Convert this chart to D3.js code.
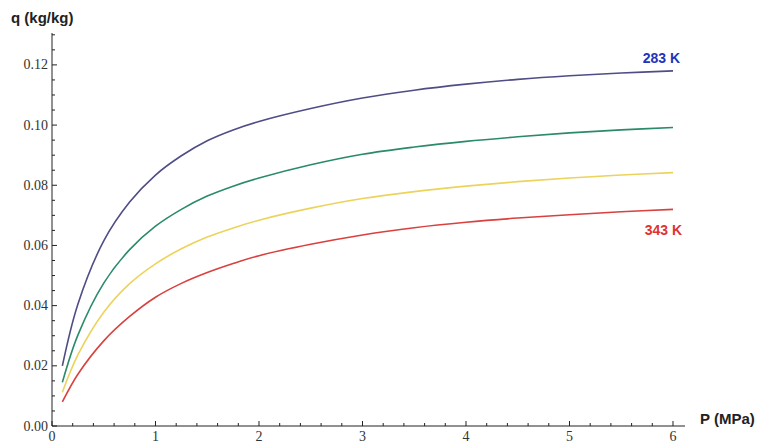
<!DOCTYPE html>
<html>
<head>
<meta charset="utf-8">
<script src="https://cdn.jsdelivr.net/npm/d3@7"></script>
<style>
  html, body { margin: 0; padding: 0; background: #fff; }
  svg { display: block; }
</style>
</head>
<body>
<svg id="chart" width="758" height="445"></svg>
<script>
// Pressure (MPa) at which each isotherm was sampled
const pressure = [0.1, 0.25, 0.5, 0.75, 1.0, 1.25, 1.5, 1.75, 2.0, 2.5, 3.0, 3.5, 4.0, 4.5, 5.0, 5.5, 6.0];

// Uptake q (kg/kg) for each temperature, lowest temperature first
const q283 = [0.0200, 0.0405, 0.0615, 0.0744, 0.0834, 0.0898, 0.0948, 0.0984, 0.1012, 0.1055, 0.1090, 0.1116, 0.1136, 0.1152, 0.1164, 0.1173, 0.1180];
const q303 = [0.0145, 0.0302, 0.0475, 0.0586, 0.0664, 0.0720, 0.0764, 0.0797, 0.0824, 0.0868, 0.0903, 0.0927, 0.0946, 0.0961, 0.0974, 0.0984, 0.0992];
const q323 = [0.0112, 0.0236, 0.0378, 0.0473, 0.0539, 0.0589, 0.0628, 0.0658, 0.0684, 0.0724, 0.0756, 0.0779, 0.0797, 0.0812, 0.0824, 0.0834, 0.0842];
const q343 = [0.0080, 0.0172, 0.0283, 0.0364, 0.0428, 0.0474, 0.0510, 0.0540, 0.0566, 0.0604, 0.0635, 0.0659, 0.0677, 0.0691, 0.0702, 0.0712, 0.0720];

const seriesColors = ["#4f4d86", "#2a8a6a", "#ecd35c", "#d9413e"];

// Axis tick values
const xMajorTicks = [0, 1, 2, 3, 4, 5, 6];
const yMajorTicks = [0.00, 0.02, 0.04, 0.06, 0.08, 0.10, 0.12];

const svg = d3.select("#chart");

const x = d3.scaleLinear().domain([0, 6.116]).range([52, 685]);
const y = d3.scaleLinear().domain([0, 0.1306]).range([426, 33]);

const tickFont = "'Liberation Serif', 'Times New Roman', serif";
const titleFont = "'Liberation Sans', Arial, sans-serif";
const axisColor = "#222";

// Curves
const line = d3.line()
  .x((d, i) => x(pressure[i]))
  .y(d => y(d))
  .curve(d3.curveCatmullRom.alpha(0.5));

[q283, q303, q323, q343].forEach((s, k) => {
  svg.append("path")
    .attr("d", line(s))
    .attr("fill", "none")
    .attr("stroke", seriesColors[k])
    .attr("stroke-width", 1.6)
    .attr("stroke-linejoin", "round");
});

// X axis (ticks pointing inward, up)
const xMinor = d3.range(0, 6.11, 0.2).map(v => +v.toFixed(2)).filter(v => !xMajorTicks.includes(v));
const gx = svg.append("g");
gx.append("line")
  .attr("x1", x(0)).attr("x2", x.range()[1])
  .attr("y1", y(0)).attr("y2", y(0))
  .attr("stroke", axisColor).attr("stroke-width", 1);
gx.selectAll(".xmaj").data(xMajorTicks).join("line")
  .attr("x1", d => x(d)).attr("x2", d => x(d))
  .attr("y1", y(0)).attr("y2", y(0) - 5)
  .attr("stroke", axisColor);
gx.selectAll(".xmin").data(xMinor).join("line")
  .attr("x1", d => x(d)).attr("x2", d => x(d))
  .attr("y1", y(0)).attr("y2", y(0) - 3)
  .attr("stroke", axisColor);
gx.selectAll("text").data(xMajorTicks).join("text")
  .attr("x", d => x(d))
  .attr("y", y(0) + 15)
  .attr("text-anchor", "middle")
  .attr("font-family", tickFont)
  .attr("font-size", 14)
  .attr("fill", "#333")
  .text(d => d3.format("d")(d));

// Y axis (ticks pointing inward, right)
const yMinor = d3.range(0, 0.1306, 0.005).map(v => +v.toFixed(3)).filter(v => !yMajorTicks.some(t => Math.abs(t - v) < 1e-6));
const gy = svg.append("g");
gy.append("line")
  .attr("x1", x(0)).attr("x2", x(0))
  .attr("y1", y(0)).attr("y2", y.range()[1])
  .attr("stroke", axisColor).attr("stroke-width", 1);
gy.selectAll(".ymaj").data(yMajorTicks).join("line")
  .attr("x1", x(0)).attr("x2", x(0) + 5)
  .attr("y1", d => y(d)).attr("y2", d => y(d))
  .attr("stroke", axisColor);
gy.selectAll(".ymin").data(yMinor).join("line")
  .attr("x1", x(0)).attr("x2", x(0) + 3)
  .attr("y1", d => y(d)).attr("y2", d => y(d))
  .attr("stroke", axisColor);
gy.selectAll("text").data(yMajorTicks).join("text")
  .attr("x", x(0) - 4)
  .attr("y", d => y(d) + 4.5)
  .attr("text-anchor", "end")
  .attr("font-family", tickFont)
  .attr("font-size", 14)
  .attr("fill", "#333")
  .text(d => d3.format(".2f")(d));

// Axis titles
svg.append("text")
  .attr("x", 11).attr("y", 23)
  .attr("font-family", titleFont)
  .attr("font-weight", "bold")
  .attr("font-size", 15)
  .attr("fill", "#222")
  .text("q (kg/kg)");
svg.append("text")
  .attr("x", 700).attr("y", 424)
  .attr("font-family", titleFont)
  .attr("font-weight", "bold")
  .attr("font-size", 15)
  .attr("fill", "#222")
  .text("P (MPa)");

// Temperature labels at the ends of the outer curves
svg.append("text")
  .attr("x", 680).attr("y", y(q283[q283.length - 1]) - 8)
  .attr("text-anchor", "end")
  .attr("font-family", titleFont)
  .attr("font-weight", "bold")
  .attr("font-size", 14)
  .attr("fill", "#2433b8")
  .text("283 K");
svg.append("text")
  .attr("x", 682).attr("y", y(q343[q343.length - 1]) + 26)
  .attr("text-anchor", "end")
  .attr("font-family", titleFont)
  .attr("font-weight", "bold")
  .attr("font-size", 14)
  .attr("fill", "#e0332e")
  .text("343 K");
</script>
</body>
</html>
